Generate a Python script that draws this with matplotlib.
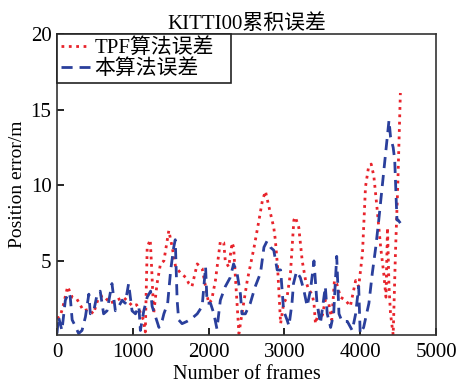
import numpy as np
import matplotlib
matplotlib.use("Agg")
from matplotlib import pyplot as plt

plt.rcParams['font.family'] = ['Liberation Serif', 'Noto Sans CJK SC', 'DejaVu Sans']

# TPF算法误差 (frame, error)
tpf_frames = [0, 40, 80, 140, 200, 260, 350, 420, 480, 550, 615, 700, 790,
              875, 940, 1000, 1050, 1090, 1140, 1165, 1190, 1230, 1250, 1275,
              1320, 1365, 1410, 1475, 1520, 1565, 1630, 1700, 1740, 1780,
              1850, 1915, 1960, 2000, 2040, 2090, 2155, 2200, 2220, 2265,
              2310, 2330, 2350, 2400, 2440, 2510, 2600, 2665, 2710, 2750,
              2795, 2860, 2880, 2910, 2950, 2990, 3035, 3080, 3125, 3145,
              3190, 3235, 3280, 3320, 3365, 3390, 3410, 3455, 3500, 3540,
              3585, 3625, 3660, 3690, 3740, 3805, 3870, 3940, 3980, 4030,
              4070, 4110, 4145, 4180, 4220, 4270, 4310, 4340, 4360, 4380,
              4400, 4435, 4465, 4495, 4530]
tpf_error = [1.2, 1.3, 2.0, 3.3, 2.6, 2.5, 1.7, 1.8, 1.5, 2.6, 2.7, 2.2,
             2.4, 2.6, 2.3, 2.0, 2.1, 1.7, 1.1, 0.3, 5.9, 6.4, 4.4, 1.5,
             3.5, 4.8, 5.0, 7.0, 5.9, 4.6, 4.2, 3.9, 3.5, 3.3, 4.8, 4.5,
             3.3, 2.2, 2.4, 3.7, 6.3, 6.2, 5.0, 4.6, 6.2, 5.9, 4.2, 0.2,
             1.5, 3.7, 5.9, 7.7, 9.0, 9.6, 8.6, 7.2, 6.4, 4.6, 0.85, 2.2,
             2.6, 4.2, 7.7, 7.9, 7.2, 5.0, 3.7, 3.1, 2.8, 2.2, 0.85, 1.7,
             1.4, 2.4, 2.2, 1.1, 3.7, 3.5, 2.6, 2.4, 2.0, 3.7, 3.3, 5.5,
             9.9, 11.2, 11.4, 10.6, 8.6, 5.9, 4.2, 2.6, 7.2, 3.3, 1.5, 0.1,
             5.5, 9.9, 16.1]

# 本算法误差 (frame, error)
our_frames = [0, 20, 65, 110, 155, 175, 200, 240, 285, 330, 375, 420, 440,
              485, 530, 570, 615, 660, 725, 770, 815, 860, 900, 945, 990,
              1035, 1080, 1100, 1145, 1190, 1235, 1255, 1300, 1345, 1390,
              1410, 1460, 1500, 1540, 1560, 1585, 1605, 1650, 1715, 1780,
              1850, 1915, 1960, 1980, 2025, 2070, 2110, 2155, 2220, 2285,
              2330, 2375, 2420, 2440, 2485, 2550, 2615, 2685, 2730, 2770,
              2815, 2860, 2905, 2950, 2990, 3035, 3060, 3100, 3120, 3160,
              3210, 3255, 3300, 3345, 3390, 3430, 3475, 3540, 3565, 3610,
              3650, 3690, 3720, 3760, 3830, 3895, 3940, 3980, 4000, 4045,
              4115, 4160, 4205, 4245, 4290, 4335, 4380, 4400, 4435, 4455,
              4470, 4485, 4500, 4530]
our_error = [0.2, 1.3, 0.4, 2.4, 2.9, 2.6, 1.1, 0.7, 0.2, 0.4, 1.3, 2.8,
             1.5, 1.7, 2.8, 3.0, 1.5, 1.7, 3.5, 1.7, 2.0, 2.4, 2.2, 3.5,
             1.7, 1.5, 2.0, 0.4, 1.7, 2.6, 3.0, 2.0, 1.3, 0.6, 1.1, 1.5,
             2.2, 4.4, 5.9, 6.4, 2.4, 1.1, 0.85, 1.0, 1.2, 1.5, 2.0, 4.6,
             2.2, 2.2, 1.5, 0.5, 2.4, 3.3, 3.9, 4.8, 4.2, 2.8, 1.5, 1.5,
             2.2, 3.3, 4.2, 5.9, 6.3, 5.9, 5.7, 4.4, 4.4, 1.7, 1.1, 0.7,
             2.2, 3.5, 4.3, 3.9, 3.1, 2.0, 3.1, 5.0, 2.2, 0.85, 3.3, 1.5,
             0.6, 1.5, 5.3, 1.5, 1.0, 1.0, 0.4, 1.5, 3.3, 0.2, 0.6, 2.2,
             4.2, 5.9, 7.7, 9.9, 12.1, 14.3, 13.2, 12.5, 11.7, 9.7, 7.7,
             7.7, 7.5]

x_ticks = [0, 1000, 2000, 3000, 4000, 5000]
y_ticks = [5, 10, 15, 20]

fig = plt.figure(figsize=(4.59, 3.84), dpi=100)
ax = fig.add_axes([57 / 459, 49 / 384, 379 / 459, 301 / 384])

ax.plot(tpf_frames, tpf_error, color='#e8242c', linestyle=':', linewidth=2.0,
        label='TPF算法误差')
ax.plot(our_frames, our_error, color='#2a3f9c', linestyle=(0, (4, 2.5)),
        linewidth=2.0, label='本算法误差')

ax.set_xlim(0, 5000)
ax.set_ylim(0.1, 20)
ax.set_xticks(x_ticks)
ax.set_yticks(y_ticks)
ax.tick_params(direction='in', length=5, width=1.2, labelsize=15)
ax.tick_params(axis='x', pad=6)
ax.tick_params(axis='y', pad=4)
for s in ax.spines.values():
    s.set_color('#333333')
    s.set_linewidth(1.2)

ax.set_title('KITTI00累积误差', fontsize=15, pad=3)
ax.set_xlabel('Number of frames', fontsize=14.5, labelpad=2)
ax.set_ylabel('Position error/m', fontsize=14, labelpad=3)

# 图例框加宽, 贴住左上角
leg = ax.legend(loc='upper left', bbox_to_anchor=(0, 0, 0.459, 1), mode='expand',
                borderaxespad=0, fontsize=15, fancybox=False, framealpha=1,
                edgecolor='#222222', handlelength=1.4, handletextpad=0.2,
                labelspacing=0.05, borderpad=0.2)
leg.get_frame().set_linewidth(1.2)

fig.savefig('out.png', dpi=100)
